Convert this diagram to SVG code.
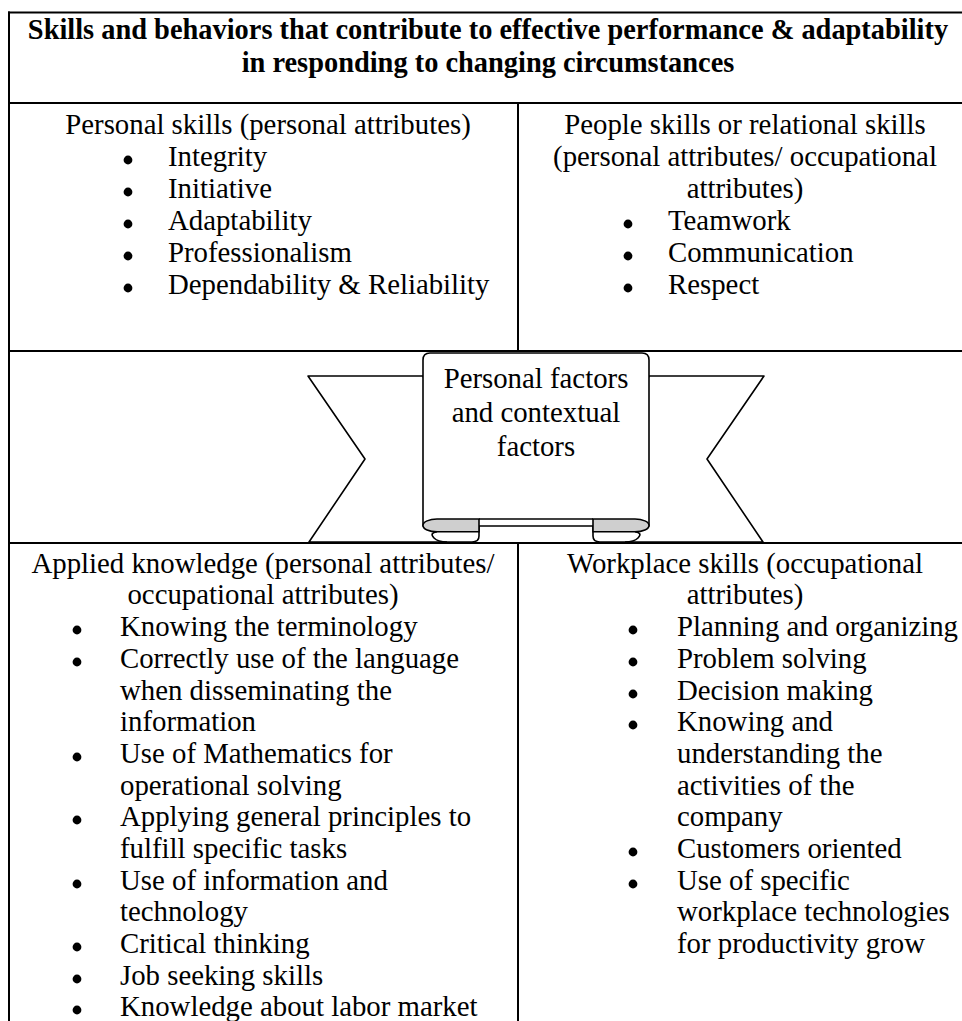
<svg xmlns="http://www.w3.org/2000/svg" width="962" height="1021" viewBox="0 0 962 1021">
<style>
.t{font-family:"Liberation Serif","DejaVu Serif",serif;font-size:28.8px;fill:#000}
.h{font-weight:bold;font-size:28.4px}
.c{text-anchor:middle}
.ln{stroke:#000;stroke-width:2;fill:none}
.rb{stroke:#000;stroke-width:1.6;fill:#fff;stroke-linejoin:round}
.fold{stroke:#000;stroke-width:1.6;fill:#cfcfcf}
.dot{fill:#000}
</style>
<rect x="0" y="0" width="962" height="1021" fill="#fff"/>
<g id="table-lines">
<line class="ln" x1="8" y1="12.5" x2="962" y2="12.5"/>
<line class="ln" x1="9" y1="11.5" x2="9" y2="1021"/>
<line class="ln" x1="8" y1="103" x2="962" y2="103"/>
<line class="ln" x1="518" y1="103" x2="518" y2="351"/>
<line class="ln" x1="8" y1="351" x2="962" y2="351"/>
<line class="ln" x1="8" y1="543" x2="962" y2="543"/>
<line class="ln" x1="518" y1="543" x2="518" y2="1021"/>
</g>
<g id="title">
<text class="t h c" x="488" y="39">Skills and behaviors that contribute to effective performance &amp; adaptability</text>
<text class="t h c" x="488" y="72">in responding to changing circumstances</text>
</g>
<g id="cell-personal">
<text class="t c" x="268" y="134">Personal skills (personal attributes)</text>
<circle class="dot" cx="128" cy="160" r="4.4"/><text class="t" x="168" y="166">Integrity</text>
<circle class="dot" cx="128" cy="192" r="4.4"/><text class="t" x="168" y="198">Initiative</text>
<circle class="dot" cx="128" cy="224" r="4.4"/><text class="t" x="168" y="230">Adaptability</text>
<circle class="dot" cx="128" cy="256" r="4.4"/><text class="t" x="168" y="262">Professionalism</text>
<circle class="dot" cx="128" cy="288" r="4.4"/><text class="t" x="168" y="294">Dependability &amp; Reliability</text>
</g>
<g id="cell-people">
<text class="t c" x="745" y="134">People skills or relational skills</text>
<text class="t c" x="745" y="166">(personal attributes/ occupational</text>
<text class="t c" x="745" y="198">attributes)</text>
<circle class="dot" cx="628" cy="224" r="4.4"/><text class="t" x="668" y="230">Teamwork</text>
<circle class="dot" cx="628" cy="256" r="4.4"/><text class="t" x="668" y="262">Communication</text>
<circle class="dot" cx="628" cy="288" r="4.4"/><text class="t" x="668" y="294">Respect</text>
</g>
<g id="banner">
<path class="rb" d="M423,376 L308,376 L365,459 L309,542 L472,542 Q479,542 479,536 L479,519 Z"/>
<path class="rb" d="M649,376 L764,376 L707,459 L763,542 L600,542 Q593,542 593,536 L593,519 Z"/>
<path class="rb" d="M423,526 L423,360 Q423,353 430,353 L642,353 Q649,353 649,360 L649,526 Z"/>
<path class="fold" d="M479,519 L437,519 A14,6.4 0 0 0 437,531.8 L479,531.8 Z"/>
<path class="fold" d="M593,519 L635,519 A14,6.4 0 0 1 635,531.8 L593,531.8 Z"/>
<path class="ln" style="stroke-width:1.6" d="M437,531.8 Q429,533 434,538 Q438,542 447,542"/>
<path class="ln" style="stroke-width:1.6" d="M635,531.8 Q643,533 638,538 Q634,542 625,542"/>
<line class="ln" style="stroke-width:1.6" x1="479" y1="519" x2="593" y2="519"/>
<text class="t c" x="536" y="388">Personal factors</text>
<text class="t c" x="536" y="422">and contextual</text>
<text class="t c" x="536" y="456">factors</text>
</g>
<g id="cell-applied">
<text class="t c" x="263" y="573">Applied knowledge (personal attributes/</text>
<text class="t c" x="263" y="604">occupational attributes)</text>
<circle class="dot" cx="77" cy="630" r="4.4"/><text class="t" x="120" y="636">Knowing the terminology</text>
<circle class="dot" cx="77" cy="662" r="4.4"/><text class="t" x="120" y="668">Correctly use of the language</text>
<text class="t" x="120" y="700">when disseminating the</text>
<text class="t" x="120" y="731">information</text>
<circle class="dot" cx="77" cy="757" r="4.4"/><text class="t" x="120" y="763">Use of Mathematics for</text>
<text class="t" x="120" y="795">operational solving</text>
<circle class="dot" cx="77" cy="820" r="4.4"/><text class="t" x="120" y="826">Applying general principles to</text>
<text class="t" x="120" y="858">fulfill specific tasks</text>
<circle class="dot" cx="77" cy="884" r="4.4"/><text class="t" x="120" y="890">Use of information and</text>
<text class="t" x="120" y="921">technology</text>
<circle class="dot" cx="77" cy="947" r="4.4"/><text class="t" x="120" y="953">Critical thinking</text>
<circle class="dot" cx="77" cy="979" r="4.4"/><text class="t" x="120" y="985">Job seeking skills</text>
<circle class="dot" cx="77" cy="1010" r="4.4"/><text class="t" x="120" y="1016">Knowledge about labor market</text>
</g>
<g id="cell-workplace">
<text class="t c" x="745" y="573">Workplace skills (occupational</text>
<text class="t c" x="745" y="604">attributes)</text>
<circle class="dot" cx="633" cy="630" r="4.4"/><text class="t" x="677" y="636">Planning and organizing</text>
<circle class="dot" cx="633" cy="662" r="4.4"/><text class="t" x="677" y="668">Problem solving</text>
<circle class="dot" cx="633" cy="694" r="4.4"/><text class="t" x="677" y="700">Decision making</text>
<circle class="dot" cx="633" cy="725" r="4.4"/><text class="t" x="677" y="731">Knowing and</text>
<text class="t" x="677" y="763">understanding the</text>
<text class="t" x="677" y="795">activities of the</text>
<text class="t" x="677" y="826">company</text>
<circle class="dot" cx="633" cy="852" r="4.4"/><text class="t" x="677" y="858">Customers oriented</text>
<circle class="dot" cx="633" cy="884" r="4.4"/><text class="t" x="677" y="890">Use of specific</text>
<text class="t" x="677" y="921">workplace technologies</text>
<text class="t" x="677" y="953">for productivity grow</text>
</g>
</svg>
